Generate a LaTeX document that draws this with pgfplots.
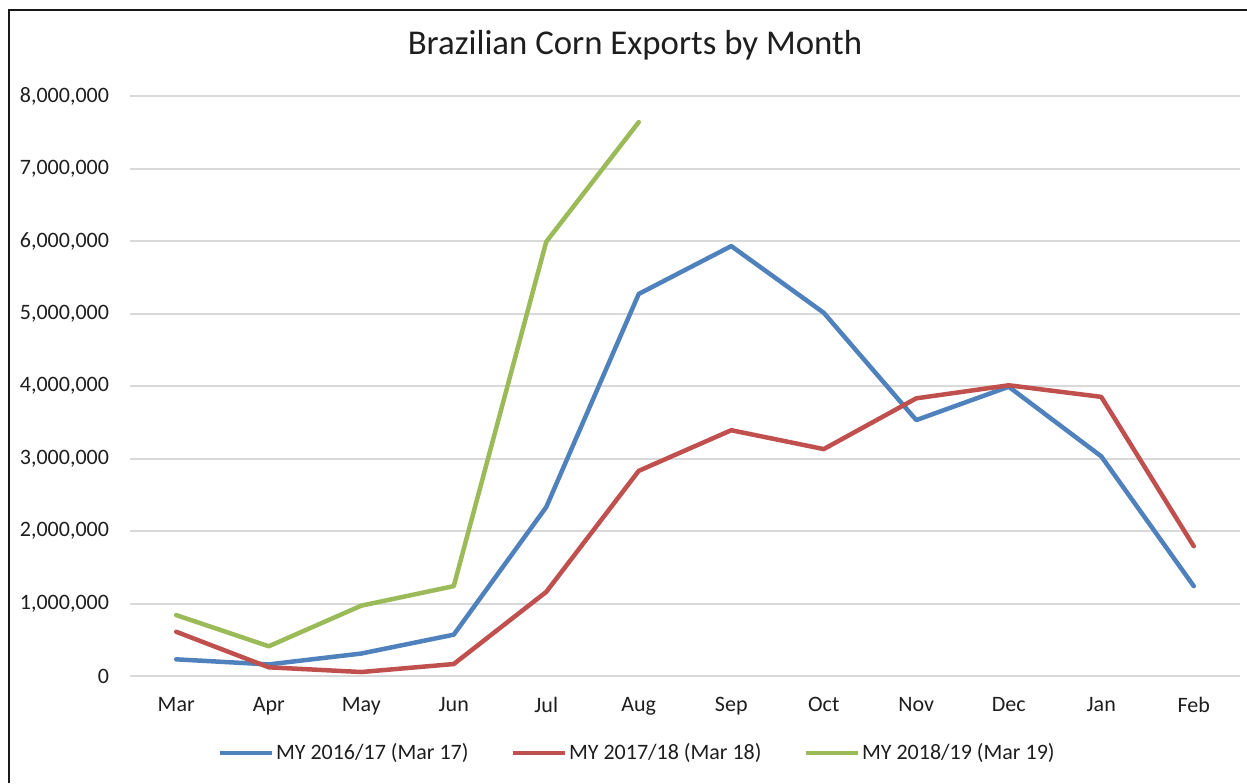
\documentclass[border=0pt]{standalone}
\usepackage{fontspec}
\setmainfont{Carlito}
\usepackage{pgfplots}
\pgfplotsset{compat=1.18}
\definecolor{myblue}{RGB}{79,129,189}
\definecolor{myred}{RGB}{192,80,77}
\definecolor{mygreen}{RGB}{155,187,89}
\definecolor{gridgray}{RGB}{217,217,217}
\definecolor{txt}{RGB}{30,30,30}

\begin{document}
\begin{tikzpicture}
\path[use as bounding box] (0,0) rectangle (623.5pt,391.5pt);
\draw[line width=1pt,black!90] (4.5pt,0) -- (4.5pt,386.5pt) -- (623.5pt,386.5pt);
\node[font=\fontsize{17.4}{20}\selectfont,text=txt] at (317.5pt,369pt) {Brazilian Corn Exports by Month};
\begin{axis}[at={(65pt,53.5pt)},anchor=south west,
  scale only axis,width=555pt,height=290pt,
  xmin=-0.5,xmax=11.5,ymin=0,ymax=8000000,
  xtick={0,...,11},
  xticklabels={Mar,Apr,May,Jun,Jul,Aug,Sep,Oct,Nov,Dec,Jan,Feb},
  ytick={0,1000000,...,8000000},
  scaled y ticks=false,
  /pgf/number format/.cd,fixed,precision=0,1000 sep={,},assume math mode=true,
  /pgfplots/.cd,
  tick label style={font=\fontsize{11}{13}\selectfont,text=txt},
  xticklabel style={yshift=-7pt},
  yticklabel style={xshift=-7pt},
  major tick length=0pt,
  axis line style={draw=none},
  ymajorgrids,grid style={draw=gridgray,line width=1pt},
  legend columns=3,
  legend style={at={(0.4568,-0.1328)},anchor=center,draw=none,fill=none,
    font=\fontsize{11}{13}\selectfont,text=txt,
    /tikz/every even column/.append style={column sep=20pt},
    nodes={inner sep=1pt}},
  legend image code/.code={\draw[#1,line cap=butt] (0pt,0pt) -- (26pt,0pt);},
  every axis plot/.append style={line width=2.25pt,line join=round,line cap=round}]
\draw[gridgray,line width=1pt] (axis cs:-0.5,0) -- (axis cs:11.5,0);
\addplot[myblue] coordinates {(0,230000) (1,160000) (2,310000) (3,570000) (4,2330000) (5,5270000) (6,5930000) (7,5010000) (8,3530000) (9,3990000) (10,3030000) (11,1240000)};
\addplot[myred] coordinates {(0,610000) (1,120000) (2,55000) (3,165000) (4,1160000) (5,2830000) (6,3390000) (7,3130000) (8,3830000) (9,4010000) (10,3850000) (11,1790000)};
\addplot[mygreen] coordinates {(0,840000) (1,410000) (2,970000) (3,1240000) (4,5990000) (5,7640000)};
\legend{MY 2016/17 (Mar 17),MY 2017/18 (Mar 18),MY 2018/19 (Mar 19)}
\end{axis}
\end{tikzpicture}
\end{document}
